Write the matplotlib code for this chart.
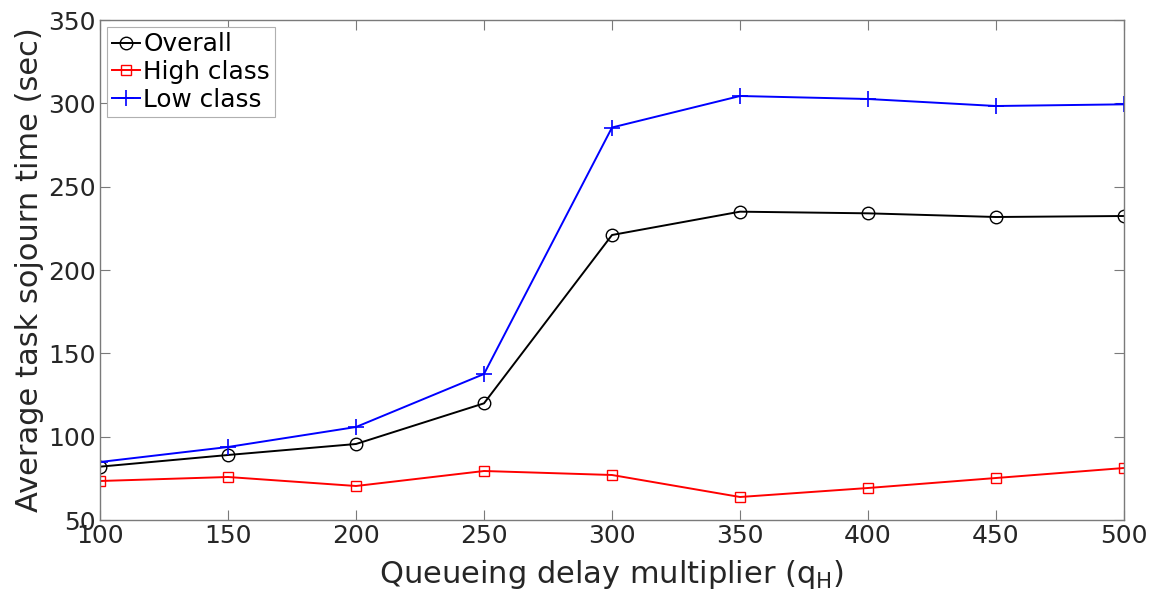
import matplotlib
matplotlib.use("Agg")
import matplotlib.pyplot as plt

q_h = [100, 150, 200, 250, 300, 350, 400, 450, 500]
overall = [82, 89, 95.6, 120, 221, 235, 234, 231.8, 232.4]
high_class = [73.4, 75.8, 70.4, 79.4, 77, 63.8, 69.2, 75.2, 81.2]
low_class = [84.8, 93.8, 105.8, 137.6, 285.5, 304.4, 302.6, 298.4, 299.4]
x_ticks = [100, 150, 200, 250, 300, 350, 400, 450, 500]
y_ticks = [50, 100, 150, 200, 250, 300, 350]

plt.rcParams['font.family'] = ['DejaVu Sans']
fig = plt.figure(figsize=(11.55, 6.08), dpi=100)
ax = fig.add_axes([100/1155, 88/608, 1024/1155, 500/608])

ax.plot(q_h, overall, color='black', marker='o', markersize=9, markerfacecolor='none',
        markeredgewidth=1.0, linewidth=1.4, label='Overall')
ax.plot(q_h, high_class, color='red', marker='s', markersize=7, markerfacecolor='none',
        markeredgewidth=1.0, linewidth=1.4, label='High class')
ax.plot(q_h, low_class, color='blue', marker='+', markersize=11,
        markeredgewidth=1.2, linewidth=1.4, label='Low class')

ax.set_xlim(100, 500)
ax.set_ylim(50, 350)
ax.set_xticks(x_ticks)
ax.set_yticks(y_ticks)
ax.tick_params(direction='in', length=7, width=0.8, colors='#7a7a7a',
               labelcolor='#262626', labelsize=18, top=True, right=True, pad=3)
for s in ax.spines.values():
    s.set_color('#7a7a7a')
    s.set_linewidth(1.0)

ax.set_xlabel(r'Queueing delay multiplier (q$_\mathrm{H}$)', fontsize=22, color='#262626', labelpad=7)
ax.set_ylabel('Average task sojourn time (sec)', fontsize=22, color='#262626', labelpad=3)

leg = ax.legend(loc='upper left', fontsize=17.8, handlelength=1.1, handletextpad=0.15,
                labelspacing=0.15, borderpad=0.2, borderaxespad=0.3, fancybox=False,
                edgecolor='#b0b0b0', framealpha=1)
leg.get_frame().set_linewidth(0.8)

fig.savefig('out.png', dpi=100)
